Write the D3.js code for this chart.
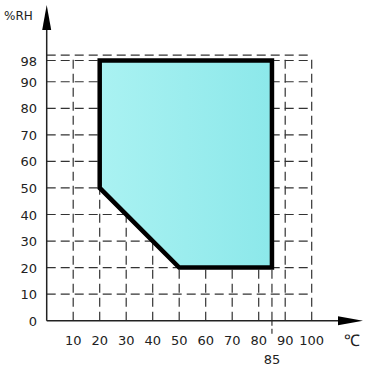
<!DOCTYPE html>
<html><head><meta charset="utf-8">
<script src="https://cdn.jsdelivr.net/npm/d3@7"></script>
<style>body{margin:0;background:#fff}svg{display:block}text{font-family:"DejaVu Sans",sans-serif;font-size:13px;fill:#222}</style>
</head><body>
<svg id="c" width="366" height="368"></svg>
<script>
const xTicks=[10,20,30,40,50,60,70,80,90,100];
const yTicks=[0,10,20,30,40,50,60,70,80,90,98];
const xGrid=[10,20,30,40,50,60,70,80,85,90,100];
const yGrid=[10,20,30,40,50,60,70,80,90,98,100];
const regionT=[20,85,85,50,20];
const regionRH=[98,98,20,20,50];
const xUnit="℃", yUnit="%RH", extraX="85";

const svg=d3.select("#c");
const x=d3.scaleLinear().domain([0,100]).range([46.7,311.7]);
const y=d3.scaleLinear().domain([0,100]).range([320.7,55.2]);

const defs=svg.append("defs");
const g=defs.append("linearGradient").attr("id","gr").attr("x1","0").attr("x2","1").attr("y1","0").attr("y2","0");
g.append("stop").attr("offset","0").attr("stop-color","#aaf2f2");
g.append("stop").attr("offset","1").attr("stop-color","#8ce8ea");

// grid
svg.append("g").selectAll("line").data(yGrid).join("line")
 .attr("x1",x(0)).attr("x2",x(100)).attr("y1",d=>y(d)).attr("y2",d=>y(d))
 .attr("stroke","#333").attr("stroke-width",1.2).attr("stroke-dasharray","9,5");
svg.append("g").selectAll("line").data(xGrid).join("line")
 .attr("y1",y(0)).attr("y2",y(100)).attr("x1",d=>x(d)).attr("x2",d=>x(d))
 .attr("stroke","#333").attr("stroke-width",1.2).attr("stroke-dasharray","9,5");
svg.append("line").attr("x1",x(85)).attr("x2",x(85)).attr("y1",y(0)).attr("y2",y(0)+13)
 .attr("stroke","#333").attr("stroke-width",1.2).attr("stroke-dasharray","5,3");

// region
const pts=regionT.map((t,i)=>[x(t),y(regionRH[i])]);
svg.append("path").attr("d",d3.line()(pts)+"Z").attr("fill","url(#gr)")
 .attr("stroke","#000").attr("stroke-width",4.5).attr("stroke-linejoin","miter");

// axes
svg.append("line").attr("x1",x(0)).attr("x2",345).attr("y1",y(0)).attr("y2",y(0)).attr("stroke","#222").attr("stroke-width",1.5);
svg.append("path").attr("d",`M363,${y(0)}L338,${y(0)-4.5}L338,${y(0)+4.5}Z`).attr("fill","#000");
svg.append("line").attr("x1",x(0)).attr("x2",x(0)).attr("y1",y(0)).attr("y2",25).attr("stroke","#222").attr("stroke-width",1.5);
svg.append("path").attr("d",`M${x(0)},5L${x(0)-4.5},30L${x(0)+4.5},30Z`).attr("fill","#000");

// labels
svg.append("g").selectAll("text").data(yTicks).join("text")
 .attr("x",37).attr("y",d=>y(d)+5).attr("text-anchor","end").text(d=>d);
svg.append("g").selectAll("text").data(xTicks).join("text")
 .attr("x",d=>x(d)).attr("y",345).attr("text-anchor","middle").text(d=>d);
svg.append("text").attr("x",x(85)).attr("y",364).attr("text-anchor","middle").text(extraX);
svg.append("text").attr("x",352).attr("y",346).attr("text-anchor","middle")
 .style("font-family","'Liberation Serif',serif").style("font-size","16px").text(xUnit);
svg.append("text").attr("x",4).attr("y",20).style("font-size","12px").text(yUnit);
</script></body></html>
